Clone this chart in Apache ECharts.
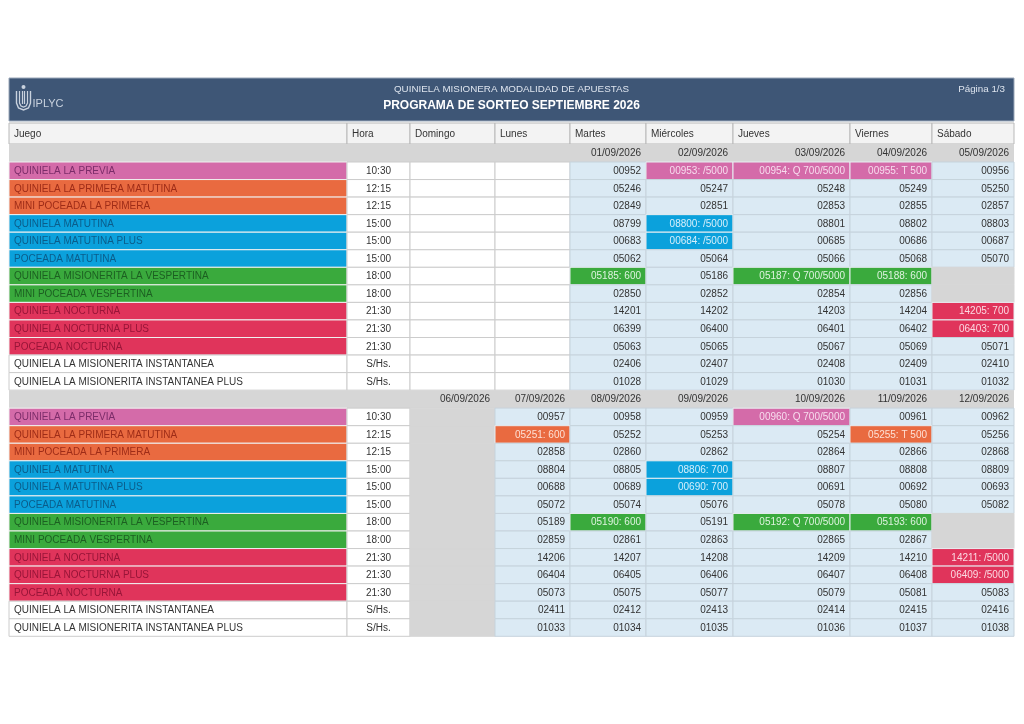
<!DOCTYPE html>
<html>
<head>
<meta charset="utf-8">
<script src="https://cdn.jsdelivr.net/npm/echarts@6/dist/echarts.min.js"></script>
<style>
  html, body { margin: 0; padding: 0; background: #fff; }
  #main { width: 1024px; height: 724px; }
</style>
</head>
<body>
<div id="main"></div>
<script>
var headers = ['Juego', 'Hora', 'Domingo', 'Lunes', 'Martes', 'Miércoles', 'Jueves', 'Viernes', 'Sábado'];

var games = [
  'QUINIELA LA PREVIA',
  'QUINIELA LA PRIMERA MATUTINA',
  'MINI POCEADA LA PRIMERA',
  'QUINIELA MATUTINA',
  'QUINIELA MATUTINA PLUS',
  'POCEADA MATUTINA',
  'QUINIELA MISIONERITA LA VESPERTINA',
  'MINI POCEADA VESPERTINA',
  'QUINIELA NOCTURNA',
  'QUINIELA NOCTURNA PLUS',
  'POCEADA NOCTURNA',
  'QUINIELA LA MISIONERITA INSTANTANEA',
  'QUINIELA LA MISIONERITA INSTANTANEA PLUS'
];
var hours = ['10:30', '12:15', '12:15', '15:00', '15:00', '15:00', '18:00', '18:00', '21:30', '21:30', '21:30', 'S/Hs.', 'S/Hs.'];
var gameGroup = ['previa', 'primera', 'primera', 'matutina', 'matutina', 'matutina', 'vespertina', 'vespertina', 'nocturna', 'nocturna', 'nocturna', '', ''];

var week1Dates = ['', '', '01/09/2026', '02/09/2026', '03/09/2026', '04/09/2026', '05/09/2026'];
var week2Dates = ['06/09/2026', '07/09/2026', '08/09/2026', '09/09/2026', '10/09/2026', '11/09/2026', '12/09/2026'];

// sorteos por dia (null = sin sorteo)
var day01 = ['00952', '05246', '02849', '08799', '00683', '05062', '05185: 600', '02850', '14201', '06399', '05063', '02406', '01028'];
var day02 = ['00953: /5000', '05247', '02851', '08800: /5000', '00684: /5000', '05064', '05186', '02852', '14202', '06400', '05065', '02407', '01029'];
var day03 = ['00954: Q 700/5000', '05248', '02853', '08801', '00685', '05066', '05187: Q 700/5000', '02854', '14203', '06401', '05067', '02408', '01030'];
var day04 = ['00955: T 500', '05249', '02855', '08802', '00686', '05068', '05188: 600', '02856', '14204', '06402', '05069', '02409', '01031'];
var day05 = ['00956', '05250', '02857', '08803', '00687', '05070', null, null, '14205: 700', '06403: 700', '05071', '02410', '01032'];
var day07 = ['00957', '05251: 600', '02858', '08804', '00688', '05072', '05189', '02859', '14206', '06404', '05073', '02411', '01033'];
var day08 = ['00958', '05252', '02860', '08805', '00689', '05074', '05190: 600', '02861', '14207', '06405', '05075', '02412', '01034'];
var day09 = ['00959', '05253', '02862', '08806: 700', '00690: 700', '05076', '05191', '02863', '14208', '06406', '05077', '02413', '01035'];
var day10 = ['00960: Q 700/5000', '05254', '02864', '08807', '00691', '05078', '05192: Q 700/5000', '02865', '14209', '06407', '05079', '02414', '01036'];
var day11 = ['00961', '05255: T 500', '02866', '08808', '00692', '05080', '05193: 600', '02867', '14210', '06408', '05081', '02415', '01037'];
var day12 = ['00962', '05256', '02868', '08809', '00693', '05082', null, null, '14211: /5000', '06409: /5000', '05083', '02416', '01038'];

var week1Days = ['empty', 'empty', day01, day02, day03, day04, day05];
var week2Days = ['closed', day07, day08, day09, day10, day11, day12];

// estilos
var groupFill = { previa: '#d46ba9', primera: '#e96a40', matutina: '#0ba1dc', vespertina: '#3aaa3d', nocturna: '#e0345b' };
var groupText = { previa: '#7b2c69', primera: '#9e2c17', matutina: '#0b5c8a', vespertina: '#1c5f21', nocturna: '#981538' };
var groupLight = { previa: '#f7dcee', primera: '#fde0d4', matutina: '#d6effb', vespertina: '#def3df', nocturna: '#fbd9e2' };

// layout en unidades de tabla
var colEdges = [0, 338, 401, 486, 561, 637, 724, 841, 923, 1005];
var bandH = 43, headTop = 45, headBot = 66, dateH = 18, rowH = 17.55;
var week1Top = headBot;
var week2Top = week1Top + dateH + games.length * rowH;
var FONT = '"Liberation Sans", Arial, sans-serif';
var BODY_FONT = '10px ' + FONT;

var cells = [];
function addCell(x0, x1, y0, y1, text, o) {
  o = o || {};
  cells.push({
    x0: x0, x1: x1, y0: y0, y1: y1, text: text || '',
    fill: o.fill || null, stroke: o.stroke || null,
    color: o.color || '#333', align: o.align || 'left',
    font: o.font || BODY_FONT, pad: o.pad == null ? 5 : o.pad, ty: o.ty
  });
}

// banda de titulo
addCell(0, 1005, 0, bandH, '', { fill: '#3e5676', stroke: '#9aa7b8' });
addCell(0, 1005, 0, 20, 'QUINIELA MISIONERA MODALIDAD DE APUESTAS', { align: 'center', color: '#dde4ee', font: '9.8px ' + FONT, ty: 11 });
addCell(0, 1005, 18, bandH, 'PROGRAMA DE SORTEO SEPTIEMBRE 2026', { align: 'center', color: '#ffffff', font: 'bold 12px ' + FONT, ty: 28 });
addCell(800, 1005, 0, 20, 'Página 1/3', { align: 'right', color: '#dde4ee', font: '9.8px ' + FONT, pad: 9, ty: 11.5 });

// encabezados de columnas
headers.forEach(function (h, i) {
  addCell(colEdges[i], colEdges[i + 1], headTop, headBot, h, { fill: '#f3f3f3', stroke: '#b9b9b9' });
});

function addWeek(top, dates, days) {
  addCell(0, 1005, top, top + dateH, '', { fill: '#d6d6d6' });
  dates.forEach(function (d, k) {
    addCell(colEdges[k + 2], colEdges[k + 3], top, top + dateH, d, { align: 'right' });
  });
  var y = top + dateH;
  games.forEach(function (g, r) {
    var y0 = y + r * rowH, y1 = y0 + rowH;
    var grp = gameGroup[r];
    addCell(colEdges[0], colEdges[1], y0, y1, g, grp ? { fill: groupFill[grp], stroke: '#f0f0f0', color: groupText[grp] } : { fill: '#ffffff', stroke: '#cccccc' });
    addCell(colEdges[1], colEdges[2], y0, y1, hours[r], { fill: '#ffffff', stroke: '#cccccc', align: 'center' });
    days.forEach(function (col, k) {
      var x0 = colEdges[k + 2], x1 = colEdges[k + 3];
      if (col === 'empty') {
        addCell(x0, x1, y0, y1, '', { fill: '#ffffff', stroke: '#cccccc' });
      } else if (col === 'closed') {
        addCell(x0, x1, y0, y1, '', { fill: '#d6d6d6', stroke: '#d6d6d6' });
      } else if (col[r] == null) {
        addCell(x0, x1, y0, y1, '', { fill: '#d6d6d6', stroke: '#d6d6d6' });
      } else if (col[r].indexOf(':') >= 0 && grp) {
        addCell(x0, x1, y0, y1, col[r], { fill: groupFill[grp], stroke: '#e8eef2', color: groupLight[grp], align: 'right' });
      } else {
        addCell(x0, x1, y0, y1, col[r], { fill: '#dbeaf4', stroke: '#c6d3dc', align: 'right' });
      }
    });
  });
}
addWeek(week1Top, week1Dates, week1Days);
addWeek(week2Top, week2Dates, week2Days);

var totalH = week2Top + dateH + games.length * rowH;

var chartDom = document.getElementById('main');
var myChart = echarts.init(chartDom);

var logoColor = '#c9d2de';
var option = {
  animation: false,
  backgroundColor: '#ffffff',
  grid: { left: 9, top: 78, width: 1005, height: totalH },
  xAxis: { type: 'value', min: 0, max: 1005, show: false },
  yAxis: { type: 'value', min: 0, max: totalH, inverse: true, show: false },
  graphic: [
    {
      type: 'group', left: 14, top: 85, z: 100, silent: true,
      children: [
        { type: 'circle', z: 100, shape: { cx: 8, cy: 2, r: 2 }, style: { fill: logoColor } },
        { type: 'polyline', z: 100, shape: { points: [[1, 6], [1, 18], [3, 23], [8, 25], [13, 23], [15, 18], [15, 6]] }, style: { stroke: logoColor, fill: null, lineWidth: 1.4 } },
        { type: 'polyline', z: 100, shape: { points: [[4, 6], [4, 18], [5.5, 21], [8, 22], [10.5, 21], [12, 18], [12, 6]] }, style: { stroke: logoColor, fill: null, lineWidth: 1.2 } },
        { type: 'line', z: 100, shape: { x1: 7, y1: 6, x2: 7, y2: 19 }, style: { stroke: logoColor, lineWidth: 1.2 } },
        { type: 'line', z: 100, shape: { x1: 9, y1: 6, x2: 9, y2: 19 }, style: { stroke: logoColor, lineWidth: 1.2 } },
        { type: 'text', z: 100, x: 17, y: 13, style: { text: 'IPLYC', font: '11px ' + FONT, fill: logoColor } }
      ]
    }
  ],
  series: [
    {
      type: 'custom',
      clip: false,
      silent: true,
      z: 1,
      data: cells.map(function (c) { return [c.x0, c.x1, c.y0, c.y1]; }),
      encode: { x: [0, 1], y: [2, 3] },
      renderItem: function (params, api) {
        var c = cells[params.dataIndex];
        var p0 = api.coord([c.x0, c.y0]);
        var p1 = api.coord([c.x1, c.y1]);
        var children = [];
        if (c.fill || c.stroke) {
          children.push({
            type: 'rect',
            shape: { x: p0[0], y: p0[1], width: p1[0] - p0[0], height: p1[1] - p0[1] },
            style: { fill: c.fill || 'transparent', stroke: c.stroke || null, lineWidth: c.stroke ? 1 : 0 }
          });
        }
        if (c.text) {
          var tx = c.align === 'left' ? p0[0] + c.pad : c.align === 'right' ? p1[0] - c.pad : (p0[0] + p1[0]) / 2;
          var ty = c.ty != null ? api.coord([0, c.ty])[1] : (p0[1] + p1[1]) / 2 + 0.5;
          children.push({
            type: 'text',
            style: { text: c.text, x: tx, y: ty, align: c.align, verticalAlign: 'middle', font: c.font, fill: c.color }
          });
        }
        return { type: 'group', children: children };
      }
    }
  ]
};

option && myChart.setOption(option);
</script>
</body>
</html>
